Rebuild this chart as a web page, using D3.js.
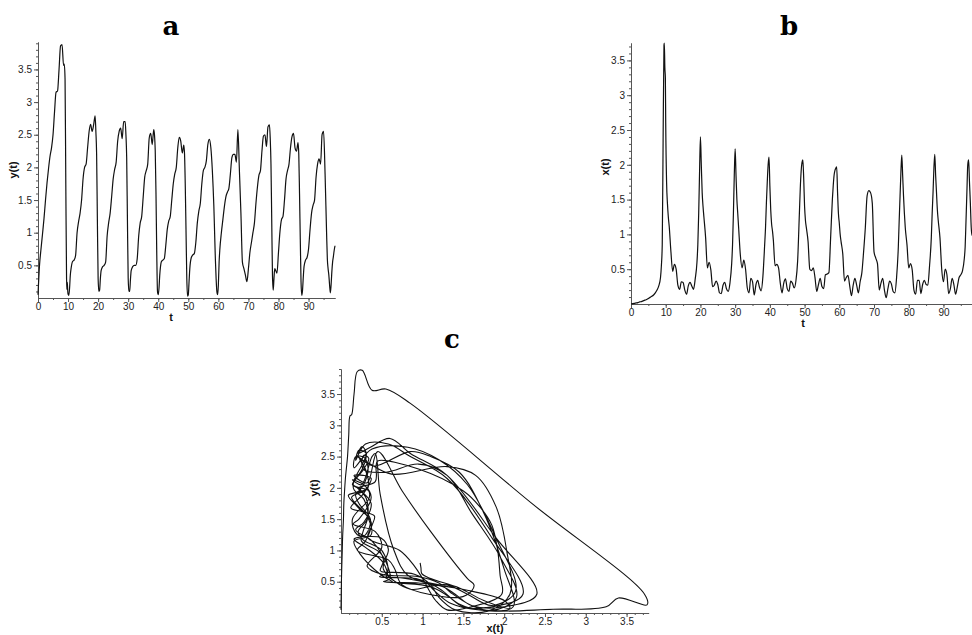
<!DOCTYPE html>
<html>
<head>
<meta charset="utf-8">
<script src="https://cdn.jsdelivr.net/npm/d3@7"></script>
<style>
  body { margin: 0; background: #fff; }
  svg { display: block; }
</style>
</head>
<body>
<svg id="chart" width="972" height="635"></svg>
<script>
// shared time grid (denser around the spikes)
const tValues = [
  0,0.5,1,1.5,2,2.5,3,3.5,4,4.5,5,5.5,6,6.5,7,7.5,8,8.5,
  8.75,9,9.25,9.5,9.6,9.75,9.9,10,10.25,10.5,10.75,11,
  11.5,12,12.5,13,13.5,14,14.5,15,15.5,16,16.5,17,17.5,18,18.5,
  19,19.25,19.5,19.75,20,20.25,20.5,20.75,21,
  21.5,22,22.5,23,23.5,24,24.5,25,25.5,26,26.5,27,27.5,28,28.5,
  29,29.25,29.5,29.75,30,30.25,30.5,30.75,31,
  31.5,32,32.5,33,33.5,34,34.5,35,35.5,36,36.5,37,37.5,38,38.5,
  38.75,39,39.25,39.5,39.75,40,40.25,40.5,40.75,
  41,41.5,42,42.5,43,43.5,44,44.5,45,45.5,46,46.5,47,47.5,48,48.5,
  48.75,49,49.25,49.5,49.75,50,50.25,50.5,
  51,51.5,52,52.5,53,53.5,54,54.5,55,55.5,56,56.5,57,57.5,58,
  58.25,58.5,58.75,59,59.25,59.5,59.75,60,60.25,60.5,
  61,61.5,62,62.5,63,63.5,64,64.5,65,65.5,66,66.5,67,67.5,68,68.5,69,69.5,70,
  70.5,71,71.5,72,72.5,73,73.5,74,74.5,75,75.5,76,76.5,77,
  77.25,77.5,77.75,78,78.25,78.5,78.75,79,
  79.5,80,80.5,81,81.5,82,82.5,83,83.5,84,84.5,85,85.5,86,86.5,
  86.75,87,87.25,87.5,87.75,88,88.25,88.5,
  89,89.5,90,90.5,91,91.5,92,92.5,93,93.5,94,94.5,95,95.5,96,
  96.25,96.5,96.75,97,97.25,97.5,97.75,98,98.25,98.5,98.8
];

// x(t), panel b
const xValues = [
  0,0.005,0.01,0.015,0.02,0.03,0.035,0.045,0.055,0.065,0.08,0.095,0.11,0.13,0.16,0.2,0.26,0.38,
  0.55,0.85,2.35,3.72,3.75,3.4,3.25,2.6,1.75,1.44,1.25,1.12,
  0.75,0.47,0.57,0.5,0.27,0.21,0.32,0.31,0.2,0.14,0.26,0.31,0.26,0.21,0.36,
  0.6,0.85,1.3,1.9,2.4,2.0,1.6,1.4,1.25,
  0.95,0.52,0.6,0.49,0.25,0.27,0.33,0.28,0.16,0.15,0.27,0.31,0.22,0.18,0.3,
  0.58,0.85,1.3,1.85,2.23,1.85,1.5,1.3,1.1,
  0.7,0.52,0.63,0.5,0.23,0.16,0.37,0.32,0.13,0.28,0.34,0.24,0.19,0.4,0.85,
  1.1,1.45,1.75,2.0,2.11,1.7,1.35,1.15,1.05,
  0.92,0.55,0.57,0.52,0.3,0.16,0.3,0.36,0.22,0.18,0.33,0.3,0.23,0.33,0.62,1.3,
  1.65,1.9,2.03,2.07,1.8,1.4,1.2,1.1,
  0.9,0.5,0.48,0.52,0.38,0.18,0.28,0.37,0.25,0.22,0.42,0.43,0.45,0.95,1.5,
  1.7,1.85,1.92,1.95,1.97,1.6,1.3,1.16,1.0,0.9,
  0.72,0.33,0.38,0.41,0.26,0.12,0.27,0.37,0.27,0.16,0.32,0.45,0.75,1.1,1.55,1.63,1.6,1.45,0.75,
  0.66,0.58,0.2,0.3,0.37,0.2,0.09,0.22,0.33,0.29,0.18,0.16,0.38,0.82,
  1.2,1.55,1.9,2.14,1.85,1.55,1.3,1.1,
  0.85,0.52,0.58,0.49,0.2,0.14,0.34,0.34,0.15,0.28,0.34,0.28,0.27,0.55,0.95,
  1.3,1.6,1.95,2.15,1.85,1.6,1.35,1.2,
  0.95,0.5,0.32,0.5,0.42,0.15,0.22,0.37,0.28,0.14,0.25,0.38,0.42,0.48,0.65,
  0.82,1.2,1.6,2.0,2.07,1.75,1.45,1.1,0.99,0.98,0.97
];

// y(t), panel a
const yValues = [
  0.05,0.5,0.75,0.98,1.22,1.5,1.76,1.98,2.17,2.3,2.5,2.85,3.15,3.17,3.5,3.86,3.88,3.56,
  3.58,3.35,1.74,0.3,0.13,0.24,0.1,0.06,0.04,0.15,0.35,0.45,
  0.56,0.58,0.65,1.0,1.17,1.3,1.5,1.83,2.0,2.05,2.3,2.55,2.66,2.55,2.65,
  2.79,2.55,2.2,1.2,0.3,0.1,0.12,0.3,0.42,
  0.48,0.5,0.55,0.95,1.15,1.3,1.55,1.82,1.97,2.08,2.4,2.55,2.6,2.44,2.7,
  2.7,2.5,2.15,1.2,0.3,0.1,0.1,0.28,0.42,
  0.48,0.5,0.5,0.6,0.95,1.15,1.25,1.55,1.85,1.95,2.05,2.45,2.52,2.35,2.58,
  2.5,2.25,1.6,0.7,0.1,0.05,0.15,0.35,0.48,
  0.55,0.58,0.6,0.8,1.05,1.18,1.25,1.5,1.75,1.9,2.0,2.3,2.46,2.4,2.22,2.34,
  2.2,1.7,1.0,0.3,0.03,0.05,0.25,0.45,
  0.62,0.66,0.68,0.85,1.15,1.33,1.45,1.75,1.95,2.0,2.1,2.35,2.43,2.3,1.95,
  1.7,1.4,1.0,0.6,0.3,0.1,0.05,0.2,0.55,0.75,
  1.0,1.2,1.4,1.55,1.62,1.68,1.9,2.15,2.2,2.2,2.08,2.58,1.95,1.3,0.55,0.45,0.35,0.25,0.45,
  0.7,0.85,1.0,1.15,1.45,1.7,1.88,1.95,2.25,2.48,2.5,2.32,2.62,2.65,
  2.45,2.05,1.2,0.35,0.12,0.3,0.45,0.43,
  0.38,0.7,1.02,1.2,1.25,1.5,1.82,1.95,2.05,2.3,2.47,2.52,2.3,2.25,2.38,
  2.2,1.6,0.9,0.25,0.04,0.12,0.32,0.48,
  0.58,0.62,0.75,1.05,1.3,1.42,1.5,1.85,2.05,2.13,2.05,2.5,2.55,1.9,1.0,
  0.6,0.45,0.35,0.2,0.08,0.2,0.4,0.55,0.63,0.72,0.8
];

const timeTicks = [0, 10, 20, 30, 40, 50, 60, 70, 80, 90];
const levelTicks = [0.5, 1, 1.5, 2, 2.5, 3, 3.5];
const panelTitles = ["a", "b", "c"];

const sans = "'Liberation Sans', Arial, sans-serif";
const fmt = d3.format("~g");
const svg = d3.select("#chart");

if (xValues.length !== tValues.length || yValues.length !== tValues.length) {
    console.error("length mismatch", tValues.length, xValues.length, yValues.length);
}
const idx = d3.range(tValues.length);

function styleAxis(g) {
    g.attr("color", "#555")
        .attr("font-family", sans)
        .attr("font-size", 10);
    g.selectAll("text").attr("fill", "#222");
}

// Maple-like axes: major ticks with labels, small minor ticks
function drawAxes(g, x, y, xMajor, xMinor, yMajor, yMinor) {
    const y0 = y.range()[0];
    const x0 = x.range()[0];

    g.append("g").attr("transform", `translate(0,${y0})`)
        .call(d3.axisBottom(x).tickValues(xMinor).tickSize(2).tickSizeOuter(0).tickFormat(""))
        .call(styleAxis);
    g.append("g").attr("transform", `translate(0,${y0})`)
        .call(d3.axisBottom(x).tickValues(xMajor).tickSize(4).tickSizeOuter(0).tickPadding(1).tickFormat(fmt))
        .call(styleAxis);

    g.append("g").attr("transform", `translate(${x0},0)`)
        .call(d3.axisLeft(y).tickValues(yMinor).tickSize(2).tickSizeOuter(0).tickFormat(""))
        .call(styleAxis);
    g.append("g").attr("transform", `translate(${x0},0)`)
        .call(d3.axisLeft(y).tickValues(yMajor).tickSize(4).tickSizeOuter(0).tickPadding(2).tickFormat(fmt))
        .call(styleAxis);
}

function axisTitle(g, text, x, y, rotate) {
    g.append("text")
        .attr("transform", `translate(${x},${y})` + (rotate ? " rotate(-90)" : ""))
        .attr("text-anchor", "middle")
        .attr("font-family", sans)
        .attr("font-size", 11)
        .attr("font-weight", "bold")
        .attr("fill", "#111")
        .text(text);
}

function panelTitle(text, x, y) {
    svg.append("text")
        .attr("x", x)
        .attr("y", y)
        .attr("text-anchor", "middle")
        .attr("font-family", "'DejaVu Serif', serif")
        .attr("font-size", 26)
        .attr("font-weight", "bold")
        .text(text);
}

// time series panel (a or b)
function createTimePanel(cfg) {
    const g = svg.append("g");
    const x = d3.scaleLinear().domain([0, 98.8]).range(cfg.xRange);
    const y = d3.scaleLinear().domain([0, cfg.yMax]).range(cfg.yRange);

    const minorT = d3.range(1, 20).map(i => i * 5);
    const minorY = d3.range(1, Math.floor(cfg.yMax * 10) + 1).map(i => i / 10);
    drawAxes(g, x, y, timeTicks, minorT, levelTicks, minorY);

    const line = d3.line()
        .x(i => x(tValues[i]))
        .y(i => y(cfg.values[i]))
        .curve(d3.curveMonotoneX);

    g.append("path")
        .datum(idx)
        .attr("fill", "none")
        .attr("stroke", "#111")
        .attr("stroke-width", 1.2)
        .attr("stroke-linejoin", "round")
        .attr("d", line);

    axisTitle(g, cfg.yTitle, cfg.yTitlePos[0], cfg.yTitlePos[1], true);
    axisTitle(g, "t", cfg.tTitlePos[0], cfg.tTitlePos[1], false);
    panelTitle(cfg.title, cfg.titlePos[0], cfg.titlePos[1]);
}

// phase plot y(t) against x(t)
function createPhasePanel() {
    const g = svg.append("g");
    const x = d3.scaleLinear().domain([0, 3.77]).range([341, 648.6]);
    const y = d3.scaleLinear().domain([0, 3.9]).range([613, 369]);

    const minor = d3.range(1, 38).map(i => i / 10);
    const minorY = d3.range(1, 40).map(i => i / 10);
    drawAxes(g, x, y, levelTicks, minor, levelTicks, minorY);

    const line = d3.line()
        .x(i => x(xValues[i]))
        .y(i => y(yValues[i]))
        .curve(d3.curveCatmullRom.alpha(0.5));

    g.append("path")
        .datum(idx)
        .attr("fill", "none")
        .attr("stroke", "#111")
        .attr("stroke-width", 1.1)
        .attr("stroke-linejoin", "round")
        .attr("d", line);

    axisTitle(g, "y(t)", 318, 488, true);
    axisTitle(g, "x(t)", 495, 632, false);
    panelTitle(panelTitles[2], 452, 348);
}

createTimePanel({
    values: yValues, yMax: 3.92,
    xRange: [38, 335], yRange: [298, 42],
    yTitle: "y(t)", yTitlePos: [17, 170],
    tTitlePos: [171, 321],
    title: panelTitles[0], titlePos: [171, 35]
});

createTimePanel({
    values: xValues, yMax: 3.75,
    xRange: [631, 974], yRange: [304, 43],
    yTitle: "x(t)", yTitlePos: [609, 167],
    tTitlePos: [803, 327],
    title: panelTitles[1], titlePos: [789, 35]
});

createPhasePanel();
</script>
</body>
</html>
